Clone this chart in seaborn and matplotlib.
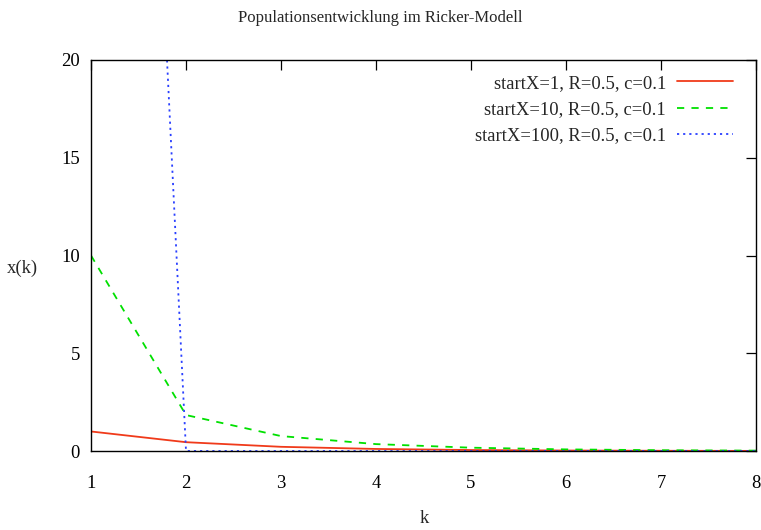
import numpy as np
import pandas as pd
import matplotlib
matplotlib.use("Agg")
import matplotlib.pyplot as plt
import seaborn as sns

# Ricker model, R=0.5, c=0.1
k_values = [1, 2, 3, 4, 5, 6, 7, 8]
x_start1 = [1.0, 0.452, 0.216, 0.106, 0.052, 0.026, 0.013, 0.0065]
x_start10 = [10.0, 1.84, 0.765, 0.354, 0.171, 0.084, 0.042, 0.021]
x_start100 = [100.0, 0.0023, 0.0011, 0.0006, 0.0003, 0.0001, 0.0001, 0.0]

labels = ["startX=1, R=0.5, c=0.1",
          "startX=10, R=0.5, c=0.1",
          "startX=100, R=0.5, c=0.1"]
colors = ["#f03a1a", "#00e000", "#2a40ff"]
dashes = ["", (4, 4), (1.2, 2.2)]

df = pd.DataFrame({
    "k": k_values * 3,
    "x": x_start1 + x_start10 + x_start100,
    "serie": [labels[0]] * 8 + [labels[1]] * 8 + [labels[2]] * 8,
})

sns.set_theme(style="white")
plt.rcParams["font.family"] = ["Liberation Serif", "DejaVu Serif"]

fig = plt.figure(figsize=(7.61, 5.30), dpi=100)
ax = fig.add_axes([0.1196, 0.149, 0.8738, 0.7378])

for lab, col, ds in zip(labels, colors, dashes):
    sub = df[df["serie"] == lab]
    line, = ax.plot(sub["k"], sub["x"], color=col, lw=1.3, label=lab)
    if ds:
        line.set_dashes(ds)

ax.set_xlim(1, 8)
ax.set_ylim(0, 20)
ax.set_xticks(range(1, 9))
ax.set_yticks([0, 5, 10, 15, 20])
ax.tick_params(direction="in", length=7, width=0.9, top=True, right=True,
               labelsize=13.4, colors="black")
ax.tick_params(axis="x", pad=17)
ax.tick_params(axis="y", pad=8)
for sp in ax.spines.values():
    sp.set_color("black")
    sp.set_linewidth(1.0)

fig.text(0.5, 0.966, "Populationsentwicklung im Ricker-Modell",
         ha="center", va="center", fontsize=12)
fig.text(0.557, 0.022, "k", ha="center", va="center", fontsize=13.4)
fig.text(0.029, 0.494, "x(k)", ha="center", va="center", fontsize=13.4)

leg = ax.legend(loc="upper right", frameon=False, markerfirst=False,
                fontsize=13.4, handlelength=3.0, handletextpad=0.6,
                labelspacing=0.5, borderaxespad=0.4,
                bbox_to_anchor=(0.988, 1.0))

fig.savefig("out.png", dpi=100)
